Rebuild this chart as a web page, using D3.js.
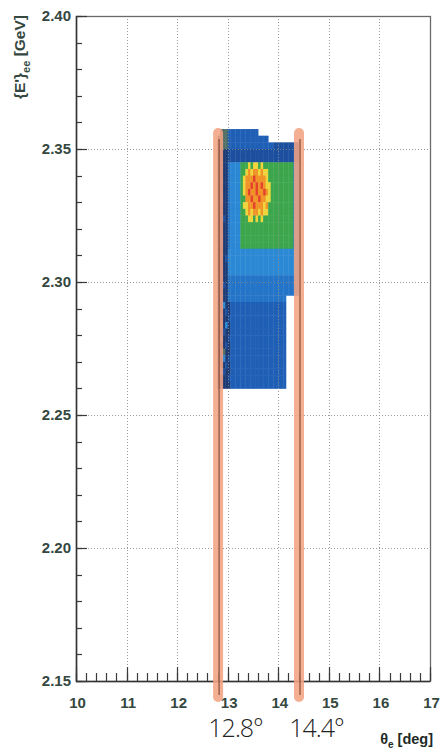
<!DOCTYPE html>
<html>
<head>
<meta charset="utf-8">
<script src="https://cdn.jsdelivr.net/npm/d3@7"></script>
<style>
  html, body { margin: 0; padding: 0; background: #ffffff; }
  svg { display: block; }
</style>
</head>
<body>
<script>
// ---- axis values ----
const xTicks = [10, 11, 12, 13, 14, 15, 16, 17];
const yTicks = [2.15, 2.20, 2.25, 2.30, 2.35, 2.40];
const yTickLabels = ["2.15", "2.20", "2.25", "2.30", "2.35", "2.40"];
const xDomain = [10, 17];
const yDomain = [2.15, 2.40];

// ---- 2D histogram: bin layout ----
const binXLow = 12.8;       // deg, left edge of first column
const binXWidth = 0.05;     // deg
const binYHigh = 2.3575;    // GeV, top edge of first row
const binYHeight = 0.0025;  // GeV

// content level of each bin, top row first ('.' = empty bin)
const levelRows = [
  ".000 333333333333 ................",
  "0000 3333333333333333 ............",
  "0000 333333333333333333 2222222222",
  "1111 2222222222222222222222222222",
  "1111 2222222222222222222222222222",
  "1111 45555 66676776766666 6666666 44",
  "1111 45555 66787887877666 6666666 44",
  "1111 45555 67888988887666 6666666 44",
  "1111 45555 67889898987766 6666666 44",
  "1111 45555 67898898898766 6666666 44",
  "1211 45555 66889889887766 6666666 44",
  "1111 45555 67788988878666 6666666 44",
  "1111 45555 66787887877666 6666666 44",
  "1121 45555 66677676766666 6666666 44",
  "1111 45555 666666666666666666666 44",
  "1111 45555 666666666666666666666 44",
  "1211 45555 666666666666666666666 44",
  "1111 45555 666666666666666666666 44",
  "1111 555555555555555555555555555 4",
  "1112 555555555555555555555555555 4",
  "1111 555555555555555555555555555 4",
  "1211 555555555555555555555555555 4",
  "1111 4444444444444444444444444444",
  "1121 4444444444444444444444444444",
  "1111 4444444444444444444444444444",
  "1211 44444444444444444444444 .....",
  "1151 13333333333333333333333 .....",
  "1112 13333333333333333333333 .....",
  "1211 23333333333333333333333 .....",
  "1015 13333333333333333333333 .....",
  "1121 13333333333333333333333 .....",
  "1511 23333333333333333333333 .....",
  "1112 13333333333333333333333 .....",
  "1201 13333333333333333333333 .....",
  "1151 23333333333333333333333 .....",
  "1112 13333333333333333333333 .....",
  "1521 13333333333333333333333 .....",
  "1111 23333333333333333333333 .....",
  "1211 13333333333333333333333 ....."
];

// colour palette, low content to high content
const paletteLevels = ["0", "1", "2", "3", "4", "5", "6", "7", "8", "9"];
const paletteColors = ["#4f6e66", "#1c3a74", "#1d4f9f", "#1f5fb6", "#2474c8",
                       "#2b88d4", "#3da64d", "#eed53c", "#f09428", "#e4432a"];

// hand-drawn acceptance cuts
const cutValues = [12.8, 14.4];
const cutLabels = ["12.8°", "14.4°"];
const cutTop = 2.356;
const cutBottom = 2.144;

// ---- layout ----
const W = 442, H = 751;
const plotLeft = 76, plotRight = 430, plotTop = 16, plotBottom = 681;

const svg = d3.select("body").append("svg")
  .attr("width", W).attr("height", H)
  .attr("viewBox", `0 0 ${W} ${H}`);

const x = d3.scaleLinear().domain(xDomain).range([plotLeft, plotRight]);
const y = d3.scaleLinear().domain(yDomain).range([plotBottom, plotTop]);
const color = d3.scaleOrdinal(paletteLevels, paletteColors);

// ---- bins ----
const cells = [];
levelRows.forEach((row, j) => {
  const chars = row.replace(/ /g, "");
  for (let i = 0; i < chars.length; i++) {
    const c = chars[i];
    if (c === ".") continue;
    cells.push({
      x0: binXLow + i * binXWidth,
      x1: binXLow + (i + 1) * binXWidth,
      y1: binYHigh - j * binYHeight,
      y0: binYHigh - (j + 1) * binYHeight,
      level: c
    });
  }
});

svg.append("g").attr("class", "bins")
  .selectAll("rect").data(cells).join("rect")
  .attr("x", d => x(d.x0))
  .attr("y", d => y(d.y1))
  .attr("width", d => x(d.x1) - x(d.x0) + 0.4)
  .attr("height", d => y(d.y0) - y(d.y1) + 0.4)
  .attr("fill", d => color(d.level));

// ---- dotted grid ----
const grid = svg.append("g").attr("class", "grid")
  .attr("stroke", "#8a8a8a").attr("stroke-width", 1)
  .attr("stroke-dasharray", "1,2").attr("opacity", 0.85);
grid.selectAll("line.gx").data(xTicks.slice(1, -1)).join("line")
  .attr("class", "gx")
  .attr("x1", d => Math.round(x(d)) + 0.5).attr("x2", d => Math.round(x(d)) + 0.5)
  .attr("y1", plotTop).attr("y2", plotBottom);
grid.selectAll("line.gy").data(yTicks.slice(1, -1)).join("line")
  .attr("class", "gy")
  .attr("y1", d => Math.round(y(d)) + 0.5).attr("y2", d => Math.round(y(d)) + 0.5)
  .attr("x1", plotLeft).attr("x2", plotRight);

// ---- frame ----
svg.append("rect")
  .attr("x", plotLeft + 0.5).attr("y", plotTop + 0.5)
  .attr("width", plotRight - plotLeft).attr("height", plotBottom - plotTop)
  .attr("fill", "none").attr("stroke", "#6a6a6a").attr("stroke-width", 1.3);
svg.append("line")
  .attr("x1", plotLeft + 0.5).attr("x2", plotLeft + 0.5)
  .attr("y1", plotTop).attr("y2", plotBottom + 1)
  .attr("stroke", "#333").attr("stroke-width", 1.5);
svg.append("line")
  .attr("x1", plotLeft).attr("x2", plotRight)
  .attr("y1", plotBottom + 0.5).attr("y2", plotBottom + 0.5)
  .attr("stroke", "#333").attr("stroke-width", 1.5);

// ---- ticks ----
const tickColor = "#3a3a3a";
const xMinor = d3.range(xDomain[0], xDomain[1] + 1e-9, 0.2);
const yMinor = d3.range(yDomain[0], yDomain[1] + 1e-9, 0.01);
const ticks = svg.append("g").attr("stroke", tickColor).attr("stroke-width", 1.2);
ticks.selectAll("line.xm").data(xMinor).join("line").attr("class", "xm")
  .attr("x1", d => Math.round(x(d)) + 0.5).attr("x2", d => Math.round(x(d)) + 0.5)
  .attr("y1", plotBottom).attr("y2", plotBottom - 8);
ticks.selectAll("line.xM").data(xTicks).join("line").attr("class", "xM")
  .attr("x1", d => Math.round(x(d)) + 0.5).attr("x2", d => Math.round(x(d)) + 0.5)
  .attr("y1", plotBottom).attr("y2", plotBottom - 14);
ticks.selectAll("line.ym").data(yMinor).join("line").attr("class", "ym")
  .attr("y1", d => Math.round(y(d)) + 0.5).attr("y2", d => Math.round(y(d)) + 0.5)
  .attr("x1", plotLeft).attr("x2", plotLeft + 6);
ticks.selectAll("line.yM").data(yTicks).join("line").attr("class", "yM")
  .attr("y1", d => Math.round(y(d)) + 0.5).attr("y2", d => Math.round(y(d)) + 0.5)
  .attr("x1", plotLeft).attr("x2", plotLeft + 11);

// ---- tick labels ----
const labelColor = "#34483f";
svg.append("g").selectAll("text").data(xTicks).join("text")
  .attr("x", d => x(d) + 1.5).attr("y", plotBottom + 27)
  .attr("text-anchor", "middle")
  .attr("font-family", "'Liberation Sans', Arial, sans-serif")
  .attr("font-weight", "bold").attr("font-size", 15)
  .attr("fill", labelColor)
  .text(d => d);
svg.append("g").selectAll("text").data(yTicks).join("text")
  .attr("x", plotLeft - 5).attr("y", d => y(d) + 5)
  .attr("text-anchor", "end")
  .attr("font-family", "'Liberation Sans', Arial, sans-serif")
  .attr("font-weight", "bold").attr("font-size", 15)
  .attr("fill", labelColor)
  .text((d, i) => yTickLabels[i]);

// ---- axis titles ----
const yTitle = svg.append("text")
  .attr("transform", `translate(25, ${plotTop - 1}) rotate(-90)`)
  .attr("text-anchor", "end")
  .attr("font-family", "'Liberation Sans', Arial, sans-serif")
  .attr("font-weight", "bold").attr("font-size", 15.5)
  .attr("fill", labelColor);
yTitle.append("tspan").text("{E'}");
yTitle.append("tspan").attr("dy", 5).attr("font-size", 11).text("ee");
yTitle.append("tspan").attr("dy", -5).text(" [GeV]");

const xTitle = svg.append("text")
  .attr("x", 433).attr("y", 744)
  .attr("text-anchor", "end")
  .attr("font-family", "'Liberation Sans', Arial, sans-serif")
  .attr("font-weight", "bold").attr("font-size", 14.5)
  .attr("fill", "#1e2a26");
xTitle.append("tspan").text("θ");
xTitle.append("tspan").attr("dy", 4).attr("font-size", 10).text("e");
xTitle.append("tspan").attr("dy", -4).text(" [deg]");

// ---- hand-drawn cut lines with highlighter ----
const marks = svg.append("g").attr("class", "cuts");
marks.selectAll("line.hl").data(cutValues).join("line").attr("class", "hl")
  .attr("x1", d => x(d) + 0.5).attr("x2", d => x(d) + 0.5)
  .attr("y1", y(cutTop)).attr("y2", y(cutBottom))
  .attr("stroke", "#f3a384").attr("stroke-width", 10)
  .attr("stroke-linecap", "round")
  .attr("opacity", 0.88);
marks.selectAll("line.pen").data(cutValues).join("line").attr("class", "pen")
  .attr("x1", d => x(d) + 1.5).attr("x2", d => x(d) + 1.5)
  .attr("y1", y(cutTop) + 6).attr("y2", y(cutBottom) - 2)
  .attr("stroke", "#6a3a28").attr("stroke-width", 1.4)
  .attr("opacity", 0.7);

// handwritten cut values
svg.append("g").selectAll("text").data(cutValues).join("text")
  .attr("x", d => x(d) + 18).attr("y", 737)
  .attr("text-anchor", "middle")
  .attr("font-family", "'Open Sans', 'DejaVu Sans', sans-serif")
  .attr("font-weight", 300).attr("font-size", 25)
  .attr("letter-spacing", -1)
  .attr("fill", "#222")
  .text((d, i) => cutLabels[i]);
</script>
</body>
</html>
